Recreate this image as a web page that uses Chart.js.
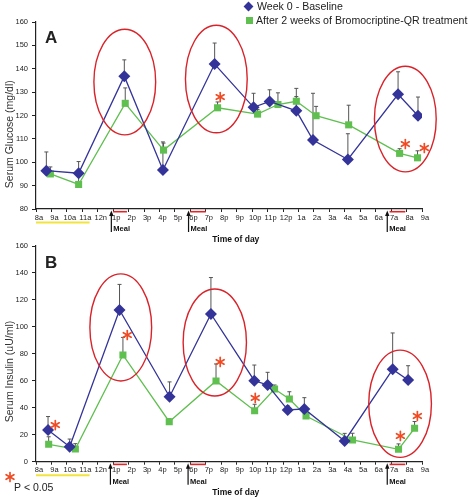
<!DOCTYPE html>
<html>
<head>
<meta charset="utf-8">
<script src="https://cdn.jsdelivr.net/npm/chart.js@4.4.1/dist/chart.umd.min.js"></script>
<style>
  body { margin: 0; background: #fff; }
  #wrap { position: relative; width: 471px; height: 500px; overflow: hidden; font-family: 'Liberation Sans', Arial, sans-serif; color: #222; }
  canvas { position: absolute; left: 0; }
  #chartA { top: 0; }
  #chartB { top: 230px; }
  .leg { position: absolute; left: 256px; font-size: 10.6px; line-height: 12px; white-space: nowrap; }
  .mk { position: absolute; width: 7px; height: 7px; }
  .panel { position: absolute; left: 45px; font-weight: bold; font-size: 17px; line-height: 18px; }
</style>
</head>
<body>
<div id="wrap">
  <canvas id="chartA" width="471" height="250"></canvas>
  <canvas id="chartB" width="471" height="270"></canvas>
  <div class="mk" style="left:244.5px; top:2.5px; background:#33339a; transform:rotate(45deg);"></div>
  <div class="leg" style="top:0px; left:257px;">Week 0 - Baseline</div>
  <div class="mk" style="left:245.5px; top:16.5px; background:#5fbf4f;"></div>
  <div class="leg" style="top:14px;">After 2 weeks of Bromocriptine-QR treatment</div>
  <div class="panel" style="top:29px;">A</div>
  <div class="panel" style="top:254px;">B</div>
</div>
<script>
// hours after 8 am, one label per tick
const timeLabels = ['8a', '9a', '10a', '11a', '12n', '1p', '2p', '3p', '4p', '5p', '6p', '7p', '8p',
  '9p', '10p', '11p', '12p', '1a', '2a', '3a', '4a', '5a', '6a', '7a', '8a', '9a'];

// Panel A - serum glucose (mg/dl)
const glucoseBaseTime = [0.67, 2.76, 5.72, 8.22, 11.57, 14.09, 15.13, 16.86, 17.94, 20.2, 23.45, 24.74];
const glucoseBase = [96.4, 95.3, 136.8, 96.7, 142, 123.5, 126, 122, 109.5, 101.2, 129.1, 119.9];
const glucoseBaseErr = [8, 5, 7, 12, 9, 6, 5, 9.6, 20, 11, 9.6, 8];
const glucoseQrTime = [0.93, 2.76, 5.78, 8.26, 11.76, 14.35, 15.67, 16.86, 18.14, 20.25, 23.55, 24.71];
const glucoseQr = [95, 90.5, 125.2, 105.2, 123.3, 120.6, 124.7, 126.1, 119.9, 116, 103.8, 101.9];
const glucoseQrErr = [3, 4, 6.6, 3, 2.5, 2, 5, 2, 4, 8.4, 2, 3];

// Panel B - serum insulin (uU/ml)
const insulinBaseTime = [0.78, 2.18, 5.41, 8.65, 11.33, 14.14, 15.0, 16.3, 17.38, 19.99, 23.1, 24.1];
const insulinBase = [23.5, 11.1, 112.5, 48.2, 109.6, 60.1, 56.9, 38.4, 39.1, 15.4, 68.5, 60.6];
const insulinBaseErr = [10, 5.7, 19, 11, 27, 11.6, 9.4, 3, 8.4, 5.6, 27, 10.6];
const insulinQrTime = [0.82, 2.55, 5.63, 8.63, 11.66, 14.16, 15.45, 16.41, 17.49, 20.5, 23.48, 24.52];
const insulinQr = [12.9, 9.4, 79.2, 29.7, 59.9, 37.8, 53.9, 46.5, 33.9, 16.1, 9.2, 24.8];
const insulinQrErr = [5.6, 4, 13, 2, 12.6, 4.8, 3, 5.4, 3, 5, 4, 5];

const BLUE = '#33339a';
const GREEN = '#5fbf4f';
const RED = '#d9232a';
const STAR = '#ef4b24';
const AXIS = '#222';
const FONT = "'Liberation Sans', Arial, sans-serif";

function series(times, values) {
  return times.map((t, i) => ({ x: t, y: values[i] }));
}

function drawStar(ctx, x, y, r) {
  ctx.save();
  ctx.strokeStyle = STAR;
  ctx.lineWidth = 1.7;
  ctx.lineCap = 'round';
  for (let k = 0; k < 3; k++) {
    const a = Math.PI / 2 + k * Math.PI / 3;
    ctx.beginPath();
    ctx.moveTo(x - r * Math.cos(a), y - r * Math.sin(a));
    ctx.lineTo(x + r * Math.cos(a), y + r * Math.sin(a));
    ctx.stroke();
  }
  ctx.restore();
}

// error bars, rings, stars and the bits under the time axis
const overlayPlugin = {
  id: 'overlay',
  beforeDatasetsDraw(chart) {
    const ctx = chart.ctx;
    const ys = chart.scales.y;
    ctx.save();
    ctx.strokeStyle = '#555';
    ctx.lineWidth = 1;
    chart.data.datasets.forEach((ds, i) => {
      const meta = chart.getDatasetMeta(i);
      meta.data.forEach((pt, j) => {
        const top = ys.getPixelForValue(ds.data[j].y + ds.errors[j]);
        ctx.beginPath();
        ctx.moveTo(pt.x, pt.y);
        ctx.lineTo(pt.x, top);
        ctx.moveTo(pt.x - 2, top);
        ctx.lineTo(pt.x + 2, top);
        ctx.stroke();
      });
    });
    ctx.restore();
  },
  afterDatasetsDraw(chart, args, o) {
    const ctx = chart.ctx;
    const xs = chart.scales.x, ys = chart.scales.y;
    ctx.save();
    ctx.strokeStyle = RED;
    ctx.lineWidth = 1.4;
    o.rings.forEach(r => {
      const cx = xs.getPixelForValue(r.t), cy = ys.getPixelForValue(r.v);
      const rx = xs.getPixelForValue(r.t + r.dt) - cx;
      const ry = cy - ys.getPixelForValue(r.v + r.dv);
      ctx.beginPath();
      ctx.ellipse(cx, cy, rx, ry, 0, 0, Math.PI * 2);
      ctx.stroke();
    });
    ctx.restore();
    o.stars.forEach(s => drawStar(ctx, xs.getPixelForValue(s.t), ys.getPixelForValue(s.v), 4.5));
  },
  afterDraw(chart, args, o) {
    const ctx = chart.ctx;
    const xs = chart.scales.x, ys = chart.scales.y;
    const base = chart.chartArea.bottom;
    ctx.save();
    // meal windows
    ctx.strokeStyle = '#e0262b';
    ctx.lineWidth = 1.6;
    o.mealBars.forEach(([a, b]) => {
      ctx.beginPath();
      ctx.moveTo(xs.getPixelForValue(a), base + 2.7);
      ctx.lineTo(xs.getPixelForValue(b), base + 2.7);
      ctx.stroke();
    });
    // sleep/fasting marker
    ctx.strokeStyle = '#f2e43c';
    ctx.lineWidth = 2;
    ctx.beginPath();
    ctx.moveTo(xs.getPixelForValue(o.yellow[0]), base + 13.5);
    ctx.lineTo(xs.getPixelForValue(o.yellow[1]), base + 13.5);
    ctx.stroke();
    // meal arrows
    ctx.strokeStyle = '#111';
    ctx.fillStyle = '#111';
    ctx.lineWidth = 1.2;
    ctx.font = 'bold 7.5px ' + FONT;
    ctx.textBaseline = 'middle';
    ctx.textAlign = 'left';
    o.meals.forEach(t => {
      const x = xs.getPixelForValue(t);
      ctx.beginPath();
      ctx.moveTo(x, base + 23);
      ctx.lineTo(x, base + 6);
      ctx.stroke();
      ctx.beginPath();
      ctx.moveTo(x, base + 1.5);
      ctx.lineTo(x - 2.2, base + 7);
      ctx.lineTo(x + 2.2, base + 7);
      ctx.closePath();
      ctx.fill();
      ctx.fillText('Meal', x + 2, base + o.mealTextDy);
    });
    // axis titles
    ctx.fillStyle = '#111';
    ctx.font = 'bold 8.5px ' + FONT;
    ctx.textAlign = 'center';
    ctx.fillText('Time of day', xs.getPixelForValue(12.94), base + o.xTitleDy);
    ctx.fillStyle = '#333';
    ctx.font = '10.5px ' + FONT;
    ctx.translate(10, ys.getPixelForValue(o.yTitleAt));
    ctx.rotate(-Math.PI / 2);
    ctx.fillText(o.yTitle, 0, 0);
    ctx.restore();
    if (o.note) {
      drawStar(ctx, 10, o.note.y, 4.5);
      ctx.save();
      ctx.fillStyle = '#222';
      ctx.font = '10.5px ' + FONT;
      ctx.textBaseline = 'middle';
      ctx.fillText('P < 0.05', 14, o.note.y + 11);
      ctx.restore();
    }
  }
};

function buildOptions(yMin, yMax, yStep, padTop, padBottom, overlay) {
  const tickFont = { family: FONT, size: 7.5 };
  return {
    responsive: false,
    animation: false,
    layout: { padding: { top: padTop, right: 49, bottom: padBottom, left: 0 } },
    plugins: { legend: { display: false }, tooltip: { enabled: false }, overlay },
    scales: {
      x: {
        type: 'linear', min: 0, max: 25,
        afterFit: s => { s.height = 36; },
        grid: { drawOnChartArea: false, tickLength: 3, color: AXIS },
        border: { color: AXIS, width: 1.2 },
        ticks: {
          stepSize: 1, autoSkip: false, maxRotation: 0, padding: 1, labelOffset: 3,
          color: '#222', font: tickFont, callback: v => timeLabels[v]
        }
      },
      y: {
        min: yMin, max: yMax,
        afterFit: s => { s.width = 36; },
        grid: { drawOnChartArea: false, tickLength: 4, color: AXIS },
        border: { color: AXIS, width: 1.2 },
        ticks: { stepSize: yStep, padding: 4, color: '#222', font: tickFont }
      }
    }
  };
}

function lineSet(label, times, values, errs, color, style, radius) {
  return {
    label, data: series(times, values), errors: errs,
    borderColor: color, backgroundColor: color, borderWidth: 1.3,
    pointStyle: style, pointRadius: radius, pointBorderWidth: 0, tension: 0
  };
}

new Chart(document.getElementById('chartA'), {
  type: 'line',
  plugins: [overlayPlugin],
  data: {
    datasets: [
      lineSet('Week 0 - Baseline', glucoseBaseTime, glucoseBase, glucoseBaseErr, BLUE, 'rectRot', 6),
      lineSet('After 2 weeks of Bromocriptine-QR treatment', glucoseQrTime, glucoseQr, glucoseQrErr, GREEN, 'rect', 5)
    ]
  },
  options: buildOptions(80, 160, 10, 22, 5, {
    rings: [
      { t: 5.75, v: 134.3, dt: 2.0, dv: 22.6 },
      { t: 11.68, v: 135.6, dt: 2.0, dv: 23 },
      { t: 23.92, v: 118.5, dt: 2.0, dv: 22.6 }
    ],
    stars: [{ t: 11.93, v: 127.9 }, { t: 23.92, v: 107.8 }, { t: 25.15, v: 106.1 }],
    meals: [4.88, 9.88, 22.75],
    mealBars: [[4.99, 5.89], [9.99, 11.0], [22.9, 23.92]],
    yellow: [0, 3.47],
    mealTextDy: 20,
    xTitleDy: 30.3,
    yTitle: 'Serum Glucose (mg/dl)',
    yTitleAt: 112
  })
});

new Chart(document.getElementById('chartB'), {
  type: 'line',
  plugins: [overlayPlugin],
  data: {
    datasets: [
      lineSet('Week 0 - Baseline', insulinBaseTime, insulinBase, insulinBaseErr, BLUE, 'rectRot', 6),
      lineSet('After 2 weeks of Bromocriptine-QR treatment', insulinQrTime, insulinQr, insulinQrErr, GREEN, 'rect', 5)
    ]
  },
  options: buildOptions(0, 160, 20, 16, 2.3, {
    rings: [
      { t: 5.49, v: 99.6, dt: 2.0, dv: 39.7 },
      { t: 11.58, v: 88.4, dt: 2.05, dv: 39.7 },
      { t: 23.58, v: 43.0, dt: 2.03, dv: 39.8 }
    ],
    stars: [
      { t: 1.25, v: 27.2 }, { t: 5.91, v: 94 }, { t: 11.93, v: 74 },
      { t: 14.2, v: 47.3 }, { t: 23.6, v: 19.1 }, { t: 24.7, v: 33.9 }
    ],
    meals: [4.82, 9.85, 22.75],
    mealBars: [[4.99, 5.89], [9.99, 11.0], [22.9, 23.92]],
    yellow: [0, 3.47],
    mealTextDy: 20.6,
    xTitleDy: 31,
    yTitle: 'Serum Insulin (uU/ml)',
    yTitleAt: 66.9,
    note: { y: 247 }
  })
});
</script>
</body>
</html>
